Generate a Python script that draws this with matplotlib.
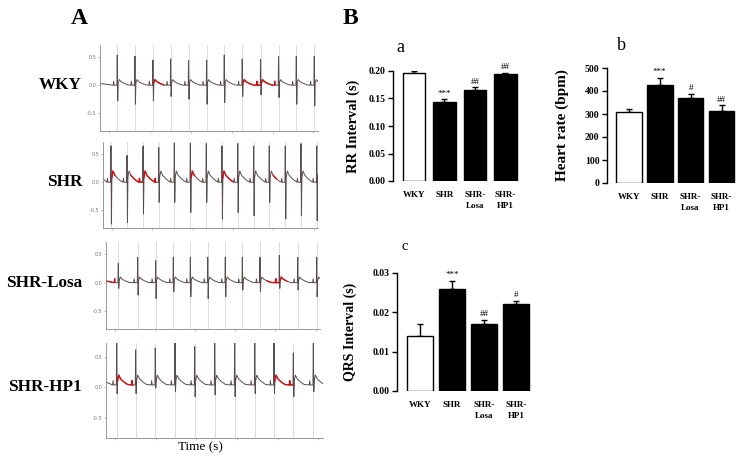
import numpy as np
import matplotlib
matplotlib.use("Agg")
import matplotlib.pyplot as plt

plt.rcParams['font.family'] = ['Liberation Serif', 'DejaVu Serif']

# ---- bar chart data (panel B) ----
groups = ['WKY', 'SHR', 'SHR-\nLosa', 'SHR-\nHP1']
rr_mean = [0.196, 0.143, 0.165, 0.195]
rr_err = [0.004, 0.006, 0.005, 0.002]
rr_sig = ['', '***', '##', '##']
hr_mean = [310, 427, 368, 313]
hr_err = [10, 30, 20, 25]
hr_sig = ['', '***', '#', '##']
qrs_mean = [0.014, 0.026, 0.017, 0.022]
qrs_err = [0.003, 0.002, 0.001, 0.001]
qrs_sig = ['', '***', '##', '#']

# ---- ECG traces (panel A): R-peak times (s), R / S amplitudes (mV) ----
ecg_names = ['WKY', 'SHR', 'SHR-Losa', 'SHR-HP1']
wky_beats = [0.19, 0.385, 0.583, 0.778, 0.975, 1.174, 1.368, 1.566, 1.768, 1.966, 2.161, 2.359]
wky_r = [0.54, 0.52, 0.45, 0.47, 0.44, 0.45, 0.54, 0.47, 0.46, 0.51, 0.52, 0.52]
wky_s = [-0.28, -0.34, -0.28, -0.2, -0.25, -0.34, -0.31, -0.2, -0.17, -0.22, -0.34, -0.37]
shr_beats = [0.089, 0.268, 0.447, 0.622, 0.796, 0.975, 1.153, 1.328, 1.504, 1.682, 1.856, 2.035, 2.21, 2.386]
shr_r = [0.65, 0.48, 0.65, 0.62, 0.7, 0.7, 0.69, 0.65, 0.69, 0.65, 0.65, 0.65, 0.69, 0.65]
shr_s = [-0.75, -0.72, -0.57, -0.36, -0.36, -0.54, -0.36, -0.66, -0.54, -0.6, -0.36, -0.66, -0.6, -0.69]
losa_beats = [0.138, 0.355, 0.557, 0.755, 0.946, 1.141, 1.338, 1.529, 1.727, 1.944, 2.15, 2.363]
losa_r = [0.34, 0.45, 0.39, 0.45, 0.45, 0.45, 0.45, 0.45, 0.45, 0.48, 0.45, 0.45]
losa_s = [-0.1, -0.22, -0.28, -0.16, -0.25, -0.28, -0.25, -0.13, -0.16, -0.1, -0.13, -0.25]
hp1_beats = [0.118, 0.328, 0.545, 0.763, 0.981, 1.202, 1.423, 1.645, 1.858, 2.072, 2.293]
hp1_r = [0.68, 0.57, 0.6, 0.68, 0.62, 0.68, 0.68, 0.68, 0.68, 0.52, 0.68]
hp1_s = [-0.14, -0.14, -0.05, -0.11, -0.19, -0.16, -0.19, -0.14, -0.14, -0.19, -0.11]
t_wave = [0.1, 0.2, 0.1, 0.16]
baseline = [0.0, 0.0, 0.0, 0.04]
red_spans = [[(0.58, 0.72), (1.57, 1.93)],
             [(0.07, 0.16), (0.3, 0.6), (0.98, 1.05), (1.33, 1.45), (1.9, 1.97)],
             [(0.0, 0.1), (1.8, 2.06)],
             [(0.12, 0.32), (1.86, 2.07)]]

# beat shape knots (offset from R in s)
knot_dt = [-0.045, -0.04, -0.034, -0.004, 0.0, 0.005, 0.01, 0.022, 0.045, 0.08, 0.12]

ecg_boxes = [[100, 45, 318, 131], [103, 142, 318, 228], [106, 242, 320, 329], [106, 343, 323, 438]]
W, H = 743, 463


def px_axes(fig, box):
    l, t, r, b = box
    return fig.add_axes([l / W, 1 - b / H, (r - l) / W, (b - t) / H])


def beat_trace(beats, rs, ss, tw, base):
    xs, ys, qrs = [0.0], [base + tw * 0.3], [False]
    for bt, r, s in zip(beats, rs, ss):
        vals = [0, 0.07, 0, 0, r, s, tw * 0.4, tw, tw * 0.6, tw * 0.3, tw * 0.05]
        for k, (dt, v) in enumerate(zip(knot_dt, vals)):
            xs.append(bt + dt)
            ys.append(base + v)
            qrs.append(k in (4, 5))
    return np.array(xs), np.array(ys), np.array(qrs)


fig = plt.figure(figsize=(7.43, 4.63), dpi=100)

ecg_data = [(wky_beats, wky_r, wky_s), (shr_beats, shr_r, shr_s),
            (losa_beats, losa_r, losa_s), (hp1_beats, hp1_r, hp1_s)]
for i, (beats, rs, ss) in enumerate(ecg_data):
    ax = px_axes(fig, ecg_boxes[i])
    for bt in beats:
        ax.axvline(bt, color='#dcd6d6', lw=0.6, zorder=0)
    x, y, qrs = beat_trace(beats, rs, ss, t_wave[i], baseline[i])
    ax.plot(x, y, color='#5a4c4c', lw=0.7)
    for a, b in red_spans[i]:
        yr = np.where((x >= a) & (x <= b) & ~qrs, y, np.nan)
        ax.plot(x, yr, color='#d01010', lw=1.0)
    ax.set_xlim(0, 2.4)
    ax.set_ylim(-0.82, 0.72)
    ax.set_yticks([-0.5, 0.0, 0.5])
    ax.set_yticklabels(['-0.5', '0.0', '0.5'], fontsize=3.5, color='#777777', family='DejaVu Sans')
    ax.set_xticks([0.1, 0.55, 1.0, 1.45, 1.9, 2.35])
    ax.set_xticklabels([])
    ax.tick_params(length=1.5, width=0.4, color='#888888', pad=1)
    for sp in ['top', 'right']:
        ax.spines[sp].set_visible(False)
    for sp in ['left', 'bottom']:
        ax.spines[sp].set_color('#888888')
        ax.spines[sp].set_linewidth(0.6)
    yc = ecg_boxes[i][1] + (ecg_boxes[i][3] - ecg_boxes[i][1]) * 0.72 / 1.54
    fig.text(82 / W, 1 - yc / H, ecg_names[i], ha='right', va='center',
             fontsize=12.3, fontweight='bold')

fig.text(79 / W, 1 - 19 / H, 'A', ha='center', va='center', fontsize=17, fontweight='bold')
fig.text(200 / W, 1 - 447 / H, 'Time (s)', ha='center', va='center', fontsize=9.5)
fig.text(350 / W, 1 - 18 / H, 'B', ha='center', va='center', fontsize=17, fontweight='bold')


def bar_panel(box, xlim, width, means, errs, sigs, ylim, yticks, ylabel, ylabel_x, ylabel_size,
              fmt, title, title_xy, title_size):
    ax = px_axes(fig, box)
    pos = np.arange(len(groups))
    colors = ['white', 'black', 'black', 'black']
    ax.bar(pos, means, width=width, color=colors, edgecolor='black', linewidth=1.0, zorder=2)
    ax.errorbar(pos, means, yerr=[[0] * len(errs), errs], fmt='none', ecolor='black',
                elinewidth=1.0, capsize=2, capthick=1.0, zorder=1)
    span = ylim[1] - ylim[0]
    for p, m, e, s in zip(pos, means, errs, sigs):
        if s:
            ax.text(p, m + e + span * 0.015, s, ha='center', va='bottom', fontsize=6.5)
    ax.set_xlim(*xlim)
    ax.set_ylim(*ylim)
    ax.set_yticks(yticks)
    ax.set_yticklabels([fmt.format(v) for v in yticks], fontsize=7, fontweight='bold')
    ax.set_xticks(pos)
    ax.set_xticklabels(groups, fontsize=6.5, fontweight='bold', linespacing=1.5, va='top')
    ax.tick_params(axis='x', length=0, pad=7)
    ax.tick_params(axis='y', length=3.5, width=1.0, pad=2)
    for sp in ['top', 'right', 'bottom']:
        ax.spines[sp].set_visible(False)
    ax.spines['left'].set_linewidth(1.0)
    fig.text(ylabel_x / W, 1 - (box[1] + box[3]) / 2 / H, ylabel, rotation=90, ha='center',
             va='center', fontsize=ylabel_size, fontweight='bold')
    fig.text(title_xy[0] / W, 1 - title_xy[1] / H, title, ha='center', va='center',
             fontsize=title_size)
    return ax


bar_panel([393, 71, 520, 181], (-0.69, 3.48), 0.75, rr_mean, rr_err, rr_sig,
          (0, 0.2), [0.0, 0.05, 0.1, 0.15, 0.2], 'RR Interval (s)', 353, 10.4, '{:.2f}',
          'a', (400, 47), 13)
bar_panel([607, 68, 738, 183], (-0.7, 3.53), 0.83, hr_mean, hr_err, hr_sig,
          (0, 500), [0, 100, 200, 300, 400, 500], 'Heart rate (bpm)', 562, 11, '{:.0f}',
          'b', (621, 45), 13)
bar_panel([397, 273, 533, 391], (-0.72, 3.53), 0.83, qrs_mean, qrs_err, qrs_sig,
          (0, 0.03), [0.0, 0.01, 0.02, 0.03], 'QRS Interval (s)', 350, 10, '{:.2f}',
          'c', (405, 246), 10.5)

plt.savefig('out.png', dpi=100)
